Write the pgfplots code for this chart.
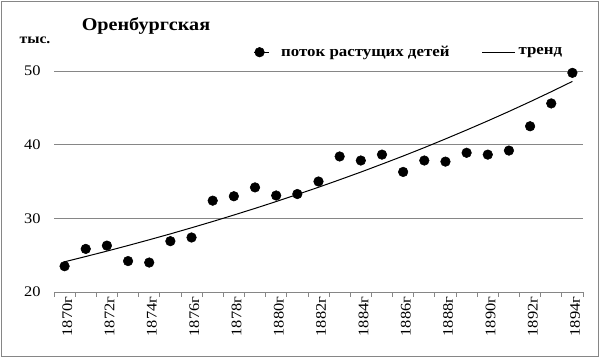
\documentclass[border=0pt]{standalone}
\usepackage{fontspec}
\setmainfont[FakeStretch=1.12]{Liberation Serif}
\usepackage{pgfplots}
\usepackage{pgfplotstable}
\pgfplotsset{compat=1.18}
\pgfplotsset{trendlegend/.style={legend image code/.code={\draw[##1] (0pt,0pt) -- (25pt,0pt);}},
  dotlegend/.style={legend image code/.code={\path (0pt,0pt) -- (11pt,0pt); \path[##1] plot coordinates {(4pt,0pt)};}}}
\pgfplotstableread{
x y t
0 23.5 24.10
1 25.85 24.82
2 26.3 25.55
3 24.2 26.31
4 24.0 27.09
5 26.9 27.89
6 27.4 28.72
7 32.4 29.57
8 33.0 30.45
9 34.2 31.35
10 33.1 32.28
11 33.3 33.24
12 35.0 34.22
13 38.4 35.24
14 37.85 36.28
15 38.65 37.36
16 36.3 38.46
17 37.85 39.60
18 37.7 40.78
19 38.9 41.99
20 38.65 43.23
21 39.2 44.51
22 42.5 45.83
23 45.6 47.19
24 49.75 48.59
}\datatable
\definecolor{gridgray}{RGB}{134,134,134}
\begin{document}
\begin{tikzpicture}
\useasboundingbox (0,0) rectangle (450pt,-268.5pt);
\draw[gridgray, line width=0.75pt] (0.75pt,-0.75pt) rectangle (448.5pt,-267pt);
\node[font=\bfseries\fontsize{13.5}{15}\selectfont] at (109.5pt,-19.5pt) {Оренбургская};
\node[font=\bfseries\fontsize{10.5}{12}\selectfont] at (26.25pt,-30pt) {тыс.};
\begin{axis}[
  at={(40.5pt,-219pt)}, anchor=south west,
  scale only axis, width=396.75pt, height=165.75pt,
  xmin=-0.5, xmax=24.5, ymin=20, ymax=50,
  ytick={20,30,40,50},
  xtick={0,2,...,24},
  xticklabels={1870г,1872г,1874г,1876г,1878г,1880г,1882г,1884г,1886г,1888г,1890г,1892г,1894г},
  minor xtick={-0.5,0.5,...,24.5},
  major tick length=0pt, minor tick length=3.5pt, tick align=outside,
  minor tick style={gridgray, line width=0.6pt},
  axis x line*=bottom, axis y line*=left,
  x axis line style={-, draw=gridgray, line width=0.75pt},
  y axis line style={draw=none},
  ymajorgrids, grid style={gridgray, line width=0.75pt},
  /pgf/number format/assume math mode=true,
  tick label style={font=\fontsize{11}{12}\selectfont},
  yticklabel style={xshift=-6.5pt},
  xticklabel style={rotate=90, anchor=east, yshift=-2pt},
  legend columns=2,
  legend style={draw=none, fill=none, at={(0.37,1.085)}, anchor=west,
    font=\bfseries\fontsize{11.3}{13}\selectfont},
  /tikz/every even column/.append style={column sep=22pt},
  clip=false,
]
\addplot[only marks, mark=*, mark size=3.6pt, black, dotlegend] table[x=x,y=y]{\datatable};
\addlegendentry{\hspace{7pt}поток растущих детей}
\addplot[black, line width=0.75pt, trendlegend] table[x=x,y=t]{\datatable};
\addlegendentry{тренд}
\end{axis}
\end{tikzpicture}
\end{document}
